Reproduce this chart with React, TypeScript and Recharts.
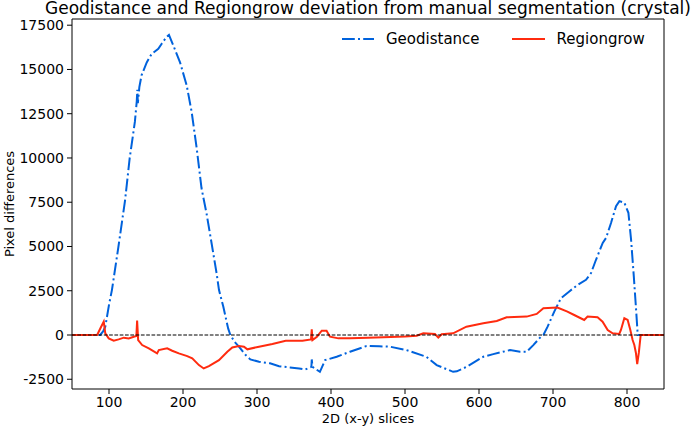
import React from 'react';
import { LineChart, Line, XAxis, YAxis, ReferenceLine, Legend } from 'recharts';

const xTicks = [100, 200, 300, 400, 500, 600, 700, 800];
const yTicks = [-2500, 0, 2500, 5000, 7500, 10000, 12500, 15000, 17500];

const geoX = [0, 50, 88, 92, 95, 100, 104, 112.6, 121.6, 128, 135, 137.5, 138.3, 139, 141, 144, 151, 157.7, 166.6, 171, 178, 181, 187, 196, 205, 211.7, 218.5, 225, 232, 238.8, 245.5, 248.6, 254.5, 261, 264, 270, 275.6, 284.7, 291, 302.7, 317.6, 329.8, 344.6, 356.9, 364.9, 373.5, 374, 375, 378, 385, 392, 407.7, 425.7, 448, 465, 479.7, 502, 529, 542.8, 565, 570, 583, 605.8, 619.3, 642, 655.4, 664.5, 673.4, 683.6, 687, 692.7, 701.7, 710.7, 722, 733.3, 744.6, 751.4, 758.1, 767.2, 771.7, 778.4, 785.2, 789.7, 796.5, 801.9, 805.5, 809.2, 812.3, 814.5, 850];
const geoY = [0, 0, 0, 200, 470, 1700, 2550, 4950, 7570, 10000, 12050, 13200, 13850, 13100, 14000, 14670, 15400, 15880, 16160, 16440, 16850, 16950, 16350, 15400, 14100, 12600, 10550, 8300, 6820, 5140, 3460, 2550, 1590, 375, 0, -400, -660, -1130, -1380, -1510, -1600, -1760, -1830, -1890, -1950, -1800, -1380, -1800, -1890, -2080, -1420, -1230, -945, -620, -640, -660, -850, -1230, -1700, -2080, -2050, -1800, -1230, -1080, -850, -945, -945, -570, -95, 0, 470, 1320, 2080, 2460, 2835, 3120, 3500, 4250, 5200, 5480, 6330, 7280, 7560, 7470, 6900, 5390, 3310, 1420, 0, 0];

const regX = [0, 84, 88.4, 92.9, 95, 99.6, 106.4, 113, 120, 126.7, 133.5, 137, 138, 139.4, 144.8, 153.8, 165, 167.3, 178.6, 185.4, 194.4, 205.7, 212.5, 221.5, 228, 235, 248.6, 259.9, 266.6, 275.6, 282.4, 287, 302.7, 320.8, 338.8, 361.4, 373, 374, 375, 381, 387.5, 394, 398.6, 410, 425.7, 450, 470.7, 500, 515.8, 524.8, 540.5, 545, 549.5, 565, 583, 605.8, 624, 637.4, 664.5, 678, 687, 706, 719.5, 728.6, 742.2, 746.7, 760.2, 767, 773.9, 780.6, 789.6, 791.8, 796.4, 800.9, 804.5, 807.6, 809.9, 812, 813.8, 816, 818.5, 850];
const regY = [0, 0, 380, 756, 95, -190, -320, -245, -150, -190, -95, -57, 810, -283, -567, -756, -1040, -850, -756, -890, -1040, -1190, -1320, -1700, -1890, -1760, -1420, -945, -700, -620, -660, -810, -660, -510, -320, -330, -250, 320, -283, -95, 245, 245, -95, -190, -190, -160, -130, -90, -40, 95, 55, -150, 40, 95, 470, 660, 795, 1000, 1040, 1190, 1510, 1550, 1320, 1130, 850, 1040, 1000, 756, 283, 95, 57, 283, 945, 850, 283, -283, -567, -1000, -1650, -1000, 0, 0];

const geoData = geoX.map((x, i) => ({ x, geo: geoY[i] }));
const regData = regX.map((x, i) => ({ x, reg: regY[i] }));

const BLUE = '#0062dc';
const RED = '#ff2b0f';
const FONT = '"DejaVu Sans", sans-serif';
const GEO_DASH = '12.8 3.2 2 3.2';

const LegendContent = () => (
  <div style={{ display: 'flex', alignItems: 'center', fontFamily: FONT, fontSize: 15, color: '#000', whiteSpace: 'nowrap' }}>
    <svg width={32} height={20} style={{ display: 'block' }}>
      <line x1={0} y1={10} x2={32} y2={10} stroke={BLUE} strokeWidth={2} strokeDasharray={GEO_DASH} />
    </svg>
    <span style={{ marginLeft: 12, marginRight: 32 }}>Geodistance</span>
    <svg width={33} height={20} style={{ display: 'block' }}>
      <line x1={0} y1={10} x2={33} y2={10} stroke={RED} strokeWidth={2} />
    </svg>
    <span style={{ marginLeft: 12 }}>Regiongrow</span>
  </div>
);

const YLabel = (props: any) => {
  const vb = props.viewBox || {};
  const cx = 9;
  const cy = vb.y + vb.height / 2;
  return (
    <text x={cx} y={cy} transform={`rotate(-90 ${cx} ${cy})`} textAnchor="middle" dominantBaseline="central" fontFamily={FONT} fontSize={13} fill="#000">
      Pixel differences
    </text>
  );
};

const XLabel = (props: any) => {
  const vb = props.viewBox || {};
  return (
    <text x={vb.x + vb.width / 2} y={vb.y + vb.height + 4} textAnchor="middle" fontFamily={FONT} fontSize={13} fill="#000">
      2D (x-y) slices
    </text>
  );
};

export default function App() {
  return (
    <div style={{ position: 'absolute', left: 0, top: 0, width: 692, height: 427, background: '#fff' }}>
      <div style={{ position: 'absolute', left: 368, top: -2, transform: 'translateX(-50%)', whiteSpace: 'nowrap', fontFamily: FONT, fontSize: 17, color: '#000', zIndex: 2 }}>
        Geodistance and Regiongrow deviation from manual segmentation (crystal)
      </div>
      <LineChart width={692} height={427} margin={{ top: 18, right: 27, bottom: 8, left: 0 }}>
        <XAxis dataKey="x" type="number" domain={[50, 850]} ticks={xTicks} allowDataOverflow height={30}
          tick={{ fill: '#000', fontSize: 14, fontFamily: FONT }} tickSize={5} tickMargin={3}
          stroke="#000" tickLine={{ stroke: '#000' }} axisLine={{ stroke: '#000' }} label={<XLabel />} />
        <XAxis xAxisId="top" orientation="top" dataKey="x" type="number" domain={[50, 850]} height={1} tick={false} tickLine={false} axisLine={{ stroke: '#000' }} />
        <YAxis type="number" domain={[-3050, 17850]} ticks={yTicks} allowDataOverflow width={72} interval={0}
          tick={{ fill: '#000', fontSize: 14, fontFamily: FONT }} tickSize={5} tickMargin={3}
          tickLine={{ stroke: '#000' }} axisLine={{ stroke: '#000' }} label={<YLabel />} />
        <YAxis yAxisId="right" orientation="right" type="number" domain={[-3050, 17850]} width={1} tick={false} tickLine={false} axisLine={{ stroke: '#000' }} />
        <Legend layout="vertical" align="center" verticalAlign="middle" content={<LegendContent />}
          wrapperStyle={{ position: 'absolute', top: 29, left: 342, width: 'auto', height: 'auto' }} />
        <Line data={geoData} dataKey="geo" name="Geodistance" type="linear" dot={false} activeDot={false} stroke={BLUE} strokeWidth={2} strokeDasharray={GEO_DASH} isAnimationActive={false} />
        <Line data={regData} dataKey="reg" name="Regiongrow" type="linear" dot={false} activeDot={false} stroke={RED} strokeWidth={2} isAnimationActive={false} />
        <ReferenceLine y={0} stroke="#000" strokeWidth={1} strokeDasharray="3.7 1.6" />
      </LineChart>
    </div>
  );
}
